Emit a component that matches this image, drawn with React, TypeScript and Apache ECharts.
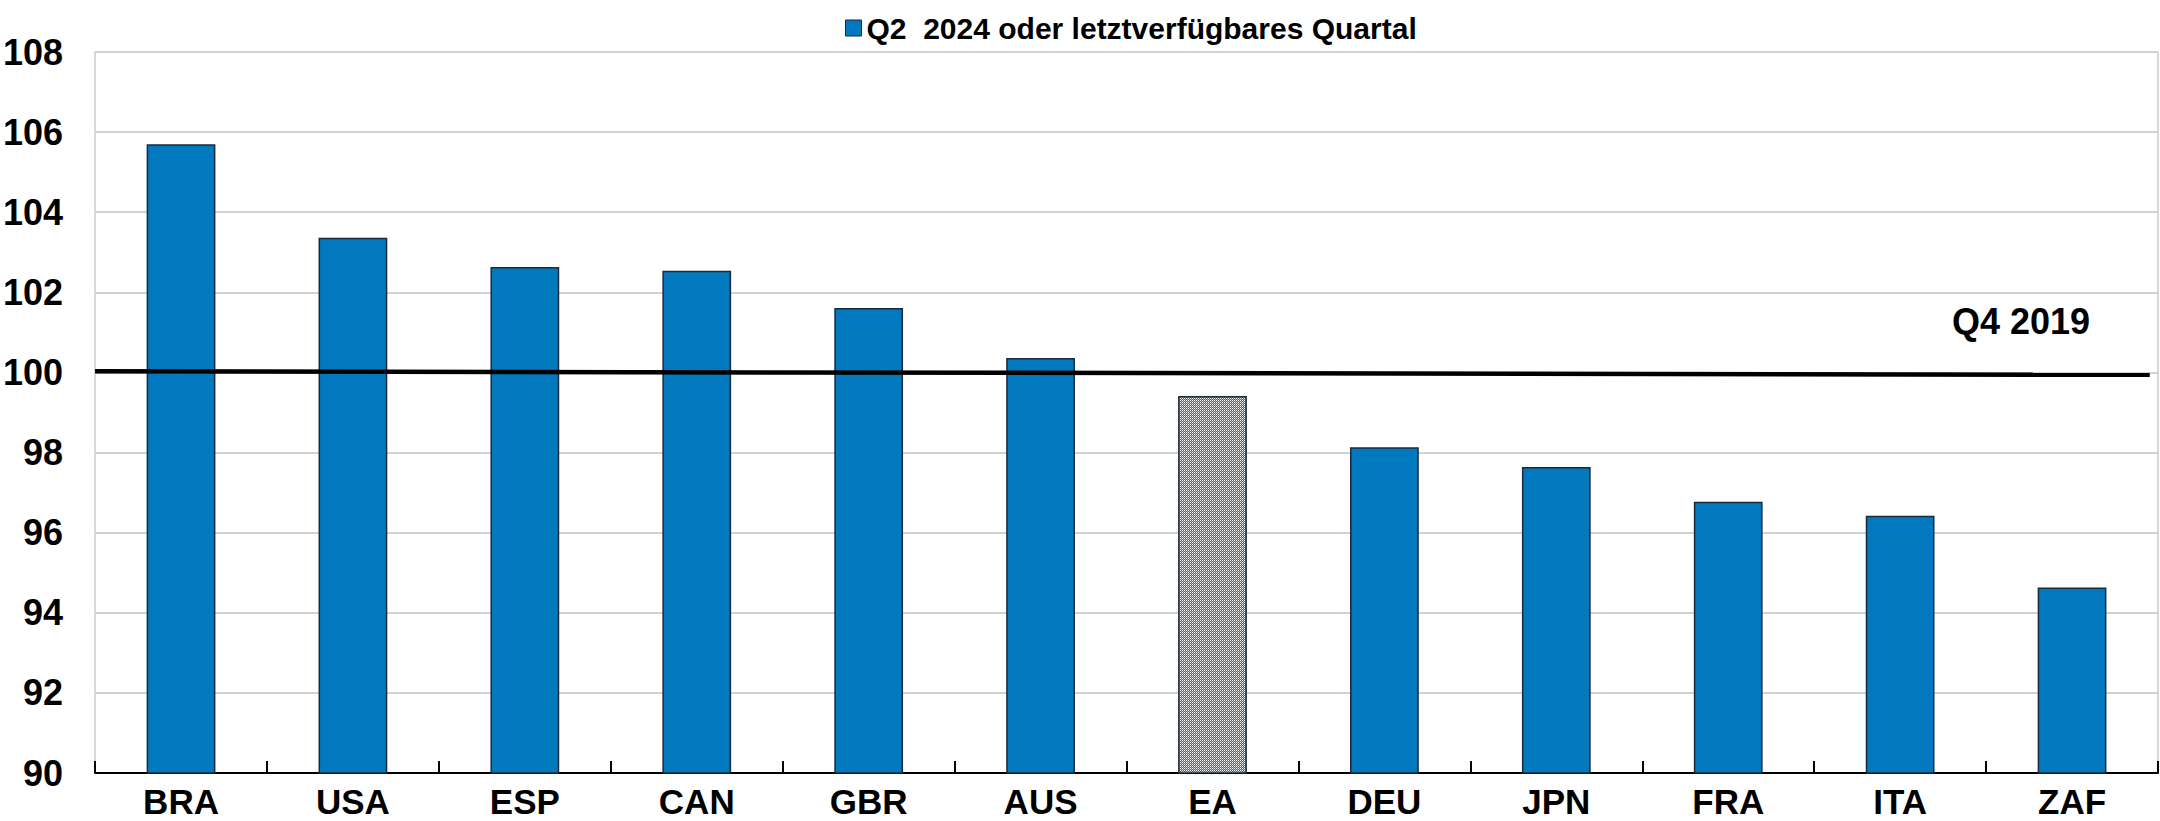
import React, { useEffect, useRef } from "react";
import * as echarts from "echarts";

const categories = ["BRA", "USA", "ESP", "CAN", "GBR", "AUS", "EA", "DEU", "JPN", "FRA", "ITA", "ZAF"];
const values = [105.7, 103.36, 102.63, 102.54, 101.61, 100.36, 99.41, 98.13, 97.64, 96.77, 96.42, 94.63];
const patternCategory = "EA";
const baselineLine: [number, number][] = [
  [0, 100.03],
  [0.996, 99.94],
];
const seriesName = "Q2  2024 oder letztverfügbares Quartal";
const baselineLabel = "Q4 2019";
const yMin = 90;
const yMax = 108;
const yInterval = 2;

const FONT = "'Liberation Sans Narrow', 'Arial Narrow', 'Liberation Sans', Arial, sans-serif";
const BLUE = "#0279BF";

function makePattern(): HTMLCanvasElement {
  const c = document.createElement("canvas");
  c.width = 4;
  c.height = 4;
  const ctx = c.getContext("2d")!;
  const W = "#ffffff";
  const B = "#0a7cc2";
  const L = "#8ec3e8";
  const grid = [
    [W, B, W, B],
    [B, L, B, L],
    [W, B, W, B],
    [B, L, B, L],
  ];
  for (let y = 0; y < 4; y++) {
    for (let x = 0; x < 4; x++) {
      ctx.fillStyle = grid[y][x];
      ctx.fillRect(x, y, 1, 1);
    }
  }
  return c;
}

export default function App() {
  const ref = useRef<HTMLDivElement>(null);
  useEffect(() => {
    if (!ref.current) return;
    const chart = echarts.init(ref.current, undefined, { renderer: "svg" });
    const pattern = makePattern();
    const barData = values.map((v, i) =>
      categories[i] === patternCategory
        ? {
            value: v,
            itemStyle: { color: { image: pattern, repeat: "repeat" } as any },
          }
        : v
    );
    chart.setOption({
      animation: false,
      backgroundColor: "#ffffff",
      textStyle: { fontFamily: FONT },
      legend: {
        show: true,
        left: 840,
        top: 8,
        icon: "rect",
        itemWidth: 16,
        itemHeight: 16,
        itemGap: 6,
        textStyle: { fontFamily: FONT, fontSize: 30, fontWeight: "bold", color: "#000" },
        data: [{ name: seriesName, itemStyle: { color: BLUE, borderColor: "#1a2a3a", borderWidth: 1 } }],
      },
      grid: {
        left: 95,
        right: 2,
        top: 52,
        bottom: 48,
        show: true,
        borderColor: "#cccccc",
        borderWidth: 1.5,
        containLabel: false,
      },
      xAxis: [
        {
          type: "category",
          data: categories,
          boundaryGap: true,
          axisLine: { show: true, lineStyle: { color: "#000", width: 2 } },
          axisTick: { show: true, inside: true, length: 12, interval: 0, lineStyle: { color: "#000", width: 2 } },
          axisLabel: {
            interval: 0,
            margin: 12,
            fontFamily: FONT,
            fontSize: 35,
            lineHeight: 32,
            fontWeight: "bold",
            color: "#000",
          },
          splitLine: { show: false },
        },
        {
          type: "value",
          min: 0,
          max: 1,
          show: false,
        },
      ],
      yAxis: {
        type: "value",
        min: yMin,
        max: yMax,
        interval: yInterval,
        axisLine: { show: false },
        axisTick: { show: false },
        axisLabel: {
          margin: 32,
          fontFamily: FONT,
          fontSize: 36,
          fontWeight: "bold",
          color: "#000",
        },
        splitLine: { show: true, lineStyle: { color: "#d2d2d2", width: 2 } },
      },
      series: [
        {
          name: seriesName,
          type: "bar",
          xAxisIndex: 0,
          barWidth: "40%",
          data: barData,
          itemStyle: { color: BLUE, borderColor: "#1a2a3a", borderWidth: 1.5 },
          z: 2,
        },
        {
          name: baselineLabel,
          type: "line",
          xAxisIndex: 1,
          data: baselineLine,
          symbol: "none",
          lineStyle: { color: "#000", width: 4.5 },
          z: 3,
        },
      ],
      graphic: [
        {
          type: "text",
          x: 2021,
          y: 303,
          style: {
            text: baselineLabel,
            align: "center",
            fontFamily: FONT,
            fontSize: 36,
            fontWeight: "bold",
            fill: "#000",
          },
        },
      ],
    });
    return () => chart.dispose();
  }, []);
  return (
    <div
      ref={ref}
      style={{ position: "fixed", left: 0, top: 0, width: 2160, height: 821, background: "#fff" }}
    />
  );
}
